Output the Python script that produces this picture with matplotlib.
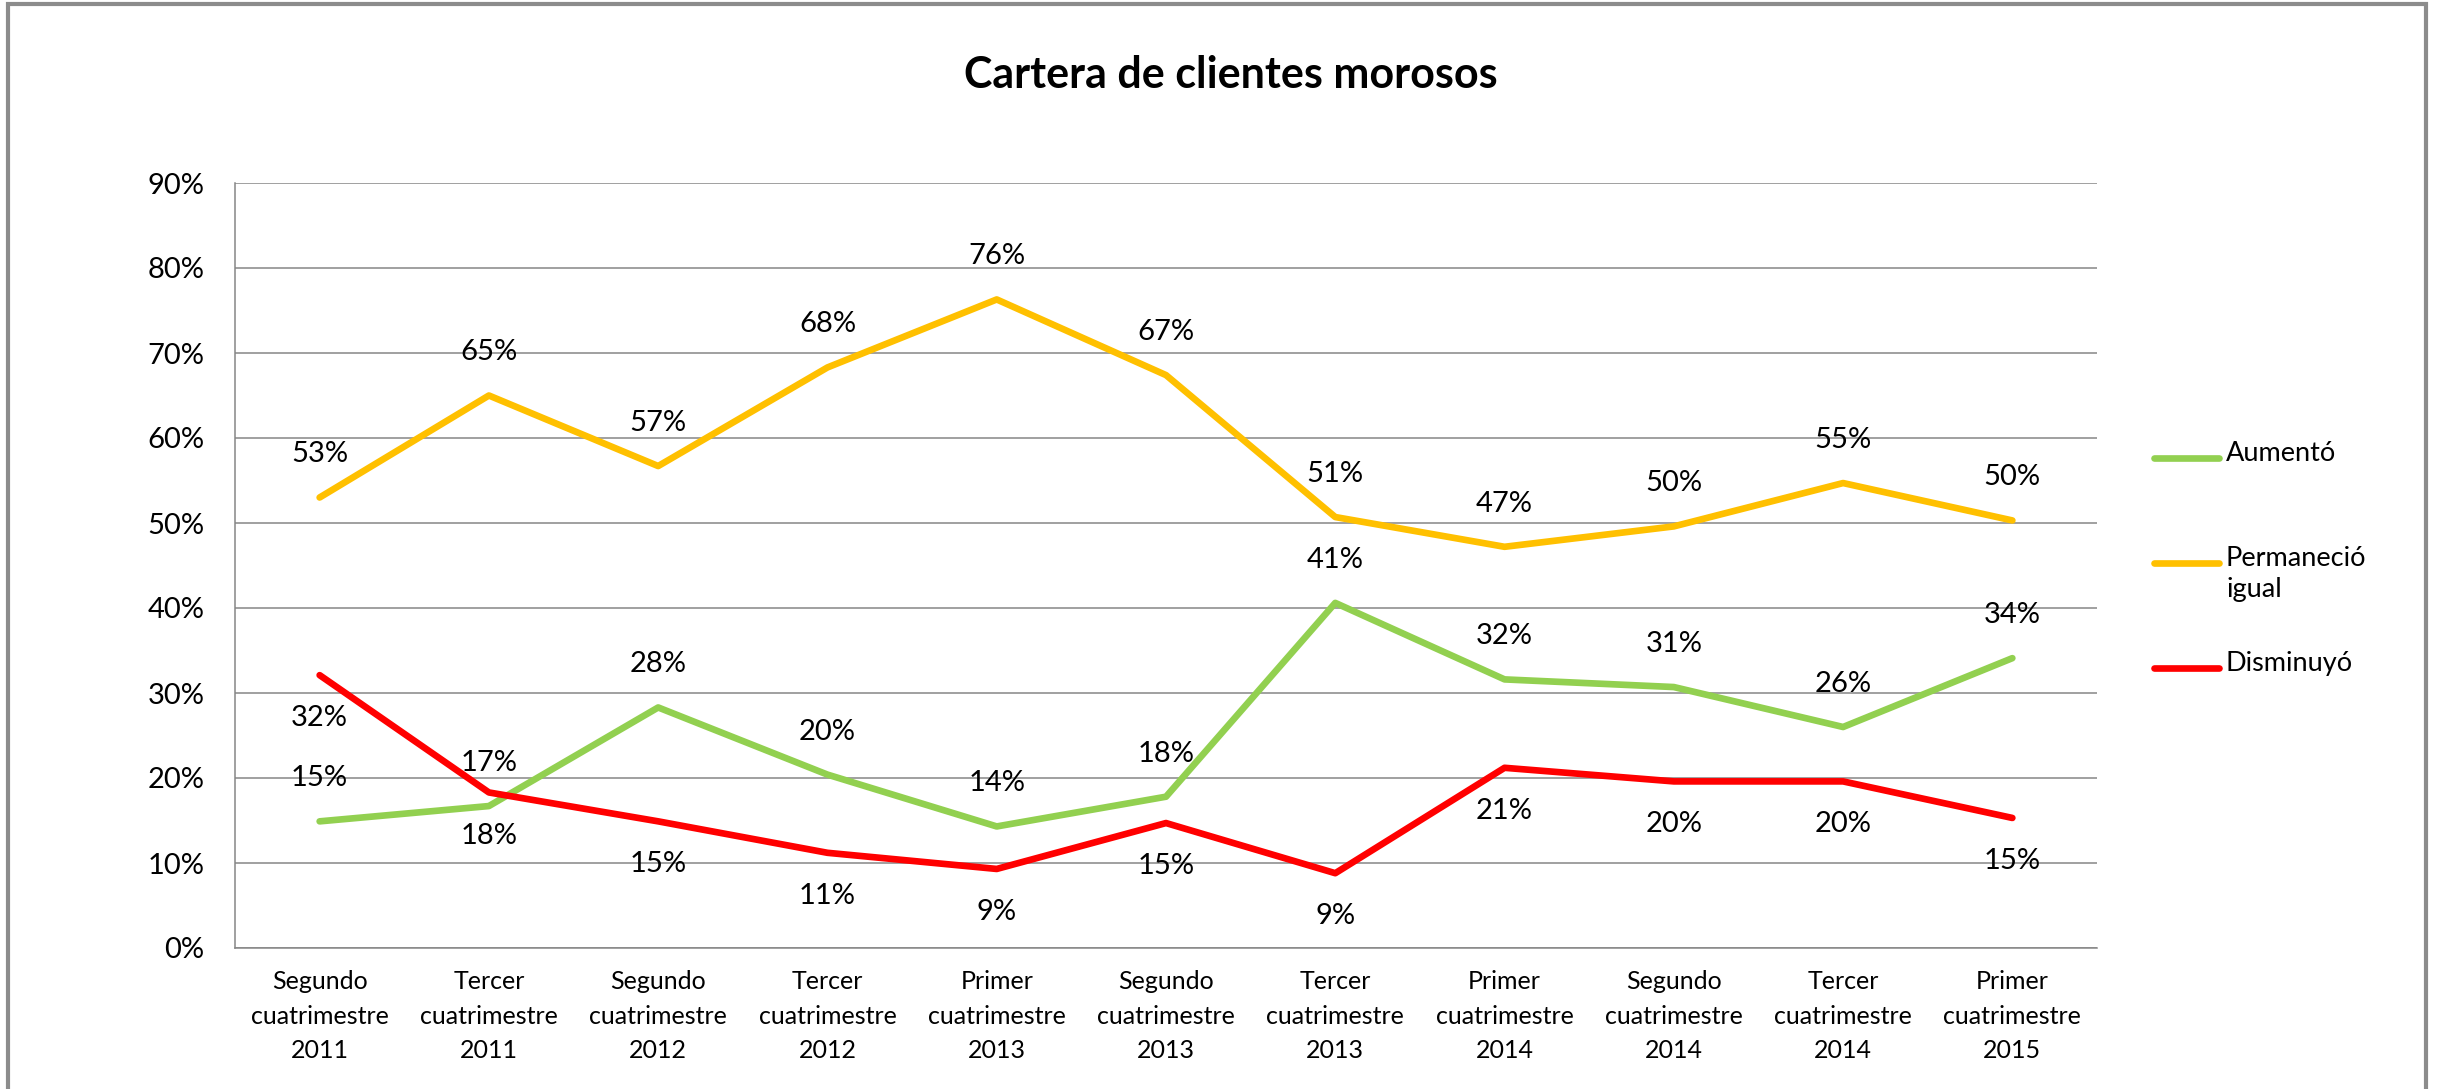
import matplotlib
matplotlib.use("Agg")
import matplotlib.pyplot as plt
from matplotlib.lines import Line2D
from matplotlib.patches import Rectangle
from matplotlib.ticker import PercentFormatter

# periods on the x axis
categories = [
    "Segundo\ncuatrimestre\n2011", "Tercer\ncuatrimestre\n2011",
    "Segundo\ncuatrimestre\n2012", "Tercer\ncuatrimestre\n2012",
    "Primer\ncuatrimestre\n2013", "Segundo\ncuatrimestre\n2013",
    "Tercer\ncuatrimestre\n2013", "Primer\ncuatrimestre\n2014",
    "Segundo\ncuatrimestre\n2014", "Tercer\ncuatrimestre\n2014",
    "Primer\ncuatrimestre\n2015",
]
aumento = [0.149, 0.167, 0.283, 0.204, 0.143, 0.178, 0.406, 0.316, 0.307, 0.260, 0.341]
permanecio = [0.530, 0.650, 0.567, 0.683, 0.763, 0.674, 0.507, 0.472, 0.496, 0.547, 0.503]
disminuyo = [0.321, 0.183, 0.149, 0.112, 0.093, 0.147, 0.088, 0.212, 0.196, 0.196, 0.153]

series_names = ["Aumentó", "Permaneció\nigual", "Disminuyó"]
series_colors = ["#92D050", "#FFC000", "#FF0000"]
label_side = [1, 1, -1]  # +1 label above the point, -1 below

plt.rcParams['font.family'] = ['Lato', 'DejaVu Sans']

W, H = 2438, 1089
fig = plt.figure(figsize=(W / 100, H / 100), dpi=100)
ax = fig.add_axes([235 / W, 1 - 948 / H, (2097 - 235) / W, (948 - 183) / H])

x = list(range(len(categories)))
all_series = [aumento, permanecio, disminuyo]
for vals, color in zip(all_series, series_colors):
    ax.plot(x, vals, color=color, lw=4.8, solid_joinstyle='round',
            solid_capstyle='round', zorder=3)

for vals, side in zip(all_series, label_side):
    for xi, v in zip(x, vals):
        ax.annotate(f"{round(v * 100)}%", (xi, v), xytext=(0, 31 * side),
                    textcoords='offset points', ha='center', va='center',
                    fontsize=21, color='black', zorder=4)

ax.set_xlim(-0.5, len(categories) - 0.5)
ax.set_ylim(0, 0.9)
ax.set_yticks([i / 10 for i in range(10)])
ax.yaxis.set_major_formatter(PercentFormatter(1, decimals=0))
ax.set_xticks(x)
ax.set_xticklabels(categories, fontsize=18, linespacing=1.6)
ax.tick_params(axis='y', length=0, pad=22, labelsize=21)
ax.tick_params(axis='x', length=0, pad=16)
ax.grid(axis='y', color='#868686', lw=1.1, zorder=0)
for s in ['top', 'right']:
    ax.spines[s].set_visible(False)
for s in ['left', 'bottom']:
    ax.spines[s].set_color('#868686')
    ax.spines[s].set_linewidth(1.1)

fig.text(1231 / W, 1 - 75 / H, "Cartera de clientes morosos", ha='center',
         va='center', fontsize=31, fontweight='bold')

# legend on the right
legend_y = [458, 563, 668]
for name, color, ly in zip(series_names, series_colors, legend_y):
    fig.add_artist(Line2D([2154 / W, 2219 / W], [1 - ly / H, 1 - ly / H],
                          transform=fig.transFigure, color=color, lw=4.8,
                          solid_capstyle='round'))
    fig.text(2226 / W, 1 - (ly - 17) / H, name, ha='left', va='top',
             fontsize=19.5, linespacing=1.3)

# chart border
fig.add_artist(Rectangle((8 / W, -0.05), 2418 / W, 1.05 - 4 / H,
                         transform=fig.transFigure, fill=False,
                         edgecolor='#8c8c8c', lw=3))

fig.savefig("out.png", dpi=100)
